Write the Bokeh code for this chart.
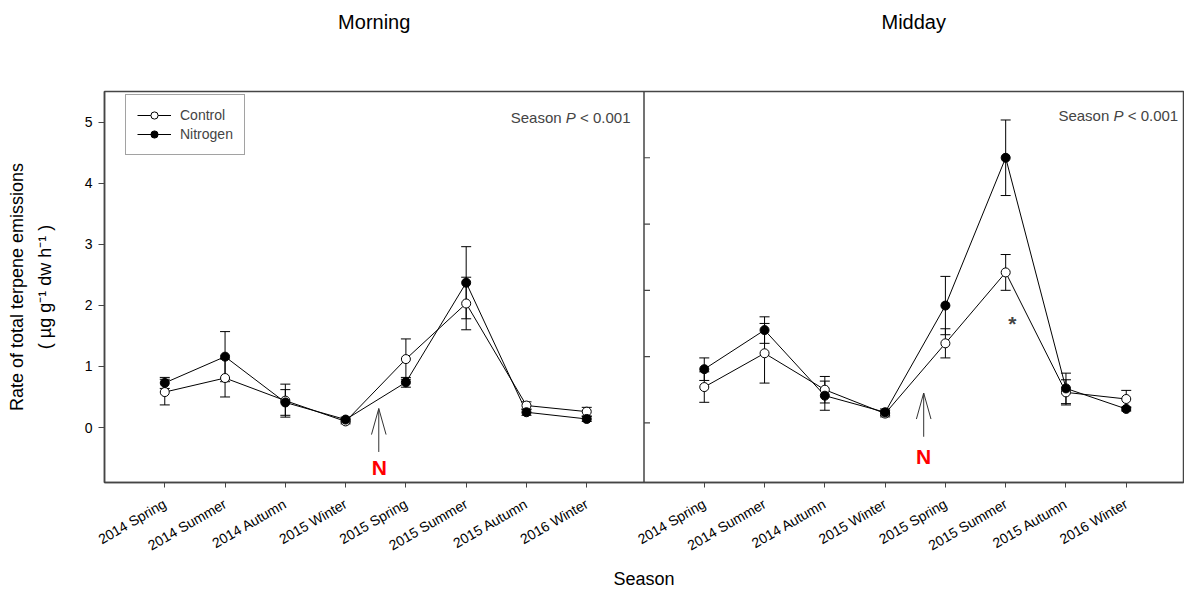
import numpy as np
from bokeh.plotting import figure
from bokeh.models import (ColumnDataSource, Range1d, FixedTicker, Span, Label,
                          Legend, LegendItem, LinearAxis)
from bokeh.embed import file_html
from bokeh.resources import INLINE

# ---------------- data ----------------
categories = ["2014 Spring", "2014 Summer", "2014 Autumn", "2015 Winter",
              "2015 Spring", "2015 Summer", "2015 Autumn", "2016 Winter"]

morning_control = [0.58, 0.81, 0.44, 0.10, 1.12, 2.03, 0.36, 0.26]
morning_control_se = [0.21, 0.31, 0.27, 0.04, 0.33, 0.43, 0.06, 0.07]
morning_nitrogen = [0.73, 1.16, 0.41, 0.13, 0.74, 2.37, 0.25, 0.14]
morning_nitrogen_se = [0.09, 0.41, 0.21, 0.04, 0.08, 0.59, 0.05, 0.04]

midday_control = [0.54, 1.05, 0.50, 0.14, 1.20, 2.27, 0.46, 0.36]
midday_control_se = [0.23, 0.45, 0.20, 0.05, 0.22, 0.27, 0.19, 0.13]
midday_nitrogen = [0.81, 1.40, 0.41, 0.16, 1.77, 4.00, 0.52, 0.21]
midday_nitrogen_se = [0.17, 0.20, 0.22, 0.05, 0.44, 0.57, 0.23, 0.03]

morning_yticks = [0, 1, 2, 3, 4, 5]
midday_yticks = [0, 1, 2, 3, 4]
panel_titles = ["Morning", "Midday"]

# ---------------- layout constants ----------------
FONT = "Liberation Sans"
FRAME = "#454545"
W, H = 1184, 592
ML, MR, MT, MB = 104, 1, 91, 110
X0, X1 = 0.0, 17.9
YL0, YL1 = -0.9, 5.5
YR0, YR1 = -0.9, 5.0
RIGHT_OFFSET = 8.95
DIVIDER = 8.95

px_x = (W - ML - MR) / (X1 - X0)
px_yl = (H - MT - MB) / (YL1 - YL0)
px_yr = (H - MT - MB) / (YR1 - YR0)


def sx(px):
    return X0 + (px - ML) / px_x


def syl(py):
    return YL0 + (H - MB - py) / px_yl


p = figure(width=W, height=H, x_range=Range1d(X0, X1), y_range=Range1d(YL0, YL1),
           output_backend="svg", toolbar_location=None,
           min_border_left=ML, min_border_right=MR, min_border_top=MT, min_border_bottom=MB)
p.extra_y_ranges = {"right": Range1d(YR0, YR1)}
p.background_fill_color = "white"
p.border_fill_color = "white"
p.outline_line_color = FRAME
p.outline_line_width = 1.5
p.xgrid.visible = False
p.ygrid.visible = False

left_x = [i + 1 for i in range(len(categories))]
right_x = [i + 1 + RIGHT_OFFSET for i in range(len(categories))]

# x axis
xa = p.xaxis[0]
xa.ticker = FixedTicker(ticks=left_x + right_x)
overrides = {}
for v, c in zip(left_x, categories):
    overrides[float(v)] = c
for v, c in zip(right_x, categories):
    overrides[float(v)] = c
xa.major_label_overrides = overrides
xa.major_label_orientation = np.pi / 6
xa.major_label_text_font = FONT
xa.major_label_text_font_size = "14px"
xa.major_label_text_color = "black"
xa.major_tick_out = 5
xa.major_tick_in = 0
xa.minor_tick_line_color = None
xa.axis_line_color = FRAME
xa.axis_line_width = 1.5
xa.major_tick_line_color = FRAME
xa.major_label_standoff = 15
xa.axis_label = "Season"
xa.axis_label_text_font = FONT
xa.axis_label_text_font_size = "18px"
xa.axis_label_text_font_style = "normal"
xa.axis_label_text_color = "black"
xa.axis_label_standoff = 6

# y axis (left panel)
ya = p.yaxis[0]
ya.ticker = FixedTicker(ticks=morning_yticks)
ya.major_label_text_font = FONT
ya.major_label_text_font_size = "14px"
ya.major_label_text_color = "black"
ya.major_tick_out = 6
ya.major_tick_in = 0
ya.minor_tick_line_color = None
ya.axis_line_color = FRAME
ya.axis_line_width = 1.5
ya.major_tick_line_color = FRAME
ya.major_label_standoff = 6
ya.axis_label = "( \u00b5g g\u207b\u00b9 dw h\u207b\u00b9 )"
ya.axis_label_text_font = FONT
ya.axis_label_text_font_size = "18px"
ya.axis_label_text_font_style = "normal"
ya.axis_label_text_color = "black"
ya.axis_label_standoff = 27

# outer line of the y title, as a label-only axis
ya2 = LinearAxis(ticker=FixedTicker(ticks=[]), axis_line_color=None,
                 major_tick_out=0, major_tick_in=0, minor_tick_line_color=None,
                 major_label_standoff=0, major_label_text_font_size="0px",
                 axis_label="Rate of total terpene emissions", axis_label_text_font=FONT,
                 axis_label_text_font_size="18px", axis_label_text_font_style="normal",
                 axis_label_text_color="black", axis_label_standoff=5)
p.add_layout(ya2, "left")

# panel titles, as a label-only axis above the frame
ta = LinearAxis(ticker=FixedTicker(ticks=[(X0 + DIVIDER) / 2, (DIVIDER + X1) / 2]),
                axis_line_color=None, major_tick_out=0, major_tick_in=0,
                minor_tick_line_color=None, major_label_standoff=59,
                major_label_text_font=FONT, major_label_text_font_size="20px",
                major_label_text_color="black")
ta.major_label_overrides = {float((X0 + DIVIDER) / 2): panel_titles[0],
                            float((DIVIDER + X1) / 2): panel_titles[1]}
p.add_layout(ta, "above")

# divider between panels
p.add_layout(Span(location=DIVIDER, dimension="height", line_color=FRAME, line_width=1.5))
# inward ticks of the (unlabelled) midday axis
p.segment(x0=DIVIDER, x1=DIVIDER + 6 / px_x, y0=midday_yticks, y1=midday_yticks,
          y_range_name="right", line_color=FRAME, line_width=1.2)

legend_items = []
for xs, c, cse, n, nse, rname in [
        (left_x, morning_control, morning_control_se, morning_nitrogen, morning_nitrogen_se, "default"),
        (right_x, midday_control, midday_control_se, midday_nitrogen, midday_nitrogen_se, "right")]:
    c = np.array(c); cse = np.array(cse); n = np.array(n); nse = np.array(nse)
    src = ColumnDataSource(dict(x=xs, c=c, c_lo=c - cse, c_hi=c + cse,
                                n=n, n_lo=n - nse, n_hi=n + nse))
    for lo, hi in [("c_lo", "c_hi"), ("n_lo", "n_hi")]:
        p.segment(x0="x", y0=lo, x1="x", y1=hi, source=src, y_range_name=rname,
                  line_color="black", line_width=1)
        p.scatter(x="x", y=lo, source=src, marker="dash", size=10, y_range_name=rname,
                  line_color="black", line_width=1)
        p.scatter(x="x", y=hi, source=src, marker="dash", size=10, y_range_name=rname,
                  line_color="black", line_width=1)
    lc = p.line(x="x", y="c", source=src, y_range_name=rname, line_color="black", line_width=1)
    ln = p.line(x="x", y="n", source=src, y_range_name=rname, line_color="black", line_width=1)
    sc = p.scatter(x="x", y="c", source=src, y_range_name=rname, marker="circle", size=9,
                   fill_color="white", line_color="black", line_width=1)
    sn = p.scatter(x="x", y="n", source=src, y_range_name=rname, marker="circle", size=9,
                   fill_color="black", line_color="black", line_width=1)
    if rname == "default":
        legend_items = [LegendItem(label="Control", renderers=[lc, sc]),
                        LegendItem(label="Nitrogen", renderers=[ln, sn])]

legend = Legend(items=legend_items, location=(21, 327), glyph_width=34, glyph_height=18,
                label_height=18, spacing=1, padding=11, margin=0, label_standoff=9,
                label_text_font=FONT, label_text_font_size="14px",
                border_line_color=FRAME, border_line_width=1.3,
                background_fill_color="white", background_fill_alpha=1)
p.add_layout(legend)

# arrows marking the nitrogen addition
for ax, top, bot, pxy, rname in [(4.55, 0.31, -0.40, px_yl, "default"),
                                 (4.64 + RIGHT_OFFSET, 0.45, -0.21, px_yr, "right")]:
    dx = 7.3 / px_x
    dy = 26 / pxy
    p.segment(x0=ax, x1=ax, y0=bot, y1=top, y_range_name=rname, line_color="#333333", line_width=1)
    p.line(x=[ax - dx, ax, ax + dx], y=[top - dy, top, top - dy], y_range_name=rname,
           line_color="#333333", line_width=1)

for nx, ny, rname in [(4.56, -0.66, "default"), (4.64 + RIGHT_OFFSET, -0.51, "right")]:
    p.add_layout(Label(x=nx, y=ny, y_range_name=rname, text="N", text_color="red",
                       text_font=FONT, text_font_style="bold", text_font_size="21px",
                       text_align="center", text_baseline="middle"))

# significance asterisk
p.add_layout(Label(x=6.11 + RIGHT_OFFSET, y=1.50, y_range_name="right", text="*",
                   text_font=FONT, text_font_size="21px", text_font_style="bold",
                   text_align="center", text_baseline="middle"))

# "Season P < 0.001" annotations
for rx, ry in [(sx(630), syl(116.7)), (sx(1177.7), syl(114.7))]:
    p.add_layout(Label(x=rx, y=ry, text="< 0.001", text_font=FONT, text_font_size="15px",
                       text_align="right", text_baseline="middle"))
    p.add_layout(Label(x=rx, y=ry, x_offset=-54.7, text="P", text_font=FONT,
                       text_font_size="15px", text_font_style="italic",
                       text_align="right", text_baseline="middle"))
    p.add_layout(Label(x=rx, y=ry, x_offset=-68.9, text="Season", text_font=FONT,
                       text_font_size="15px", text_align="right", text_baseline="middle"))

open("out.html", "w").write(file_html(p, INLINE))
